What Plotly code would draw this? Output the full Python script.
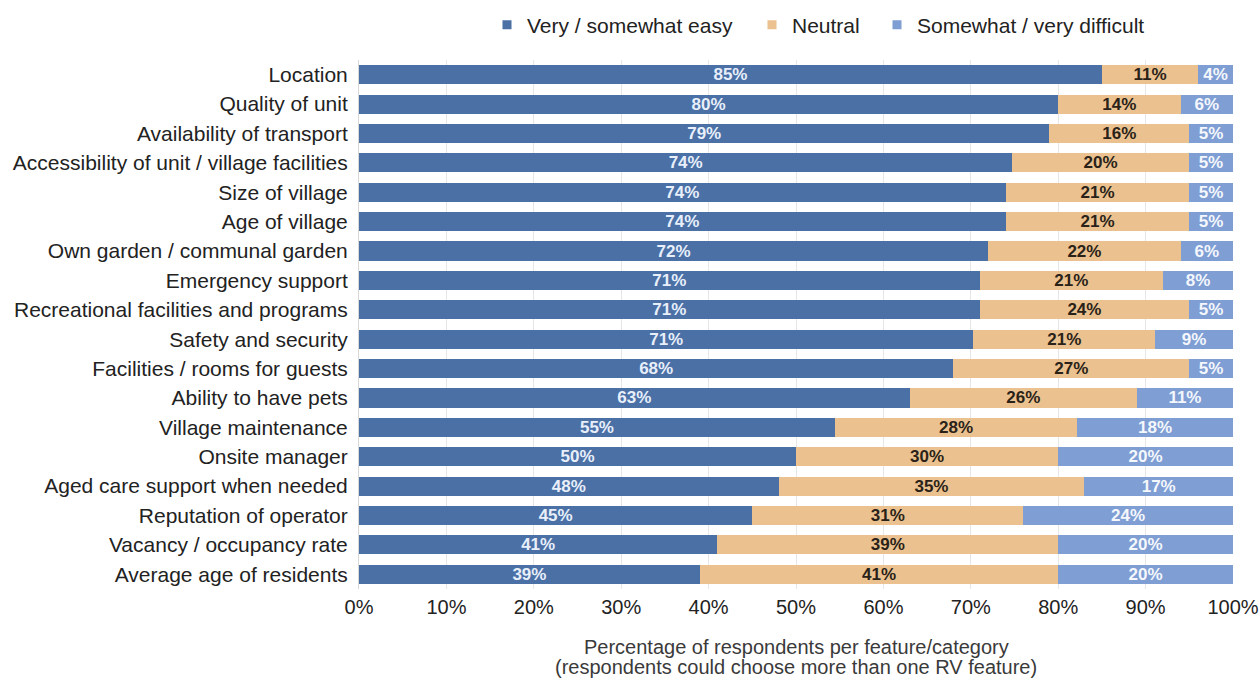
import plotly.graph_objects as go

# Survey features (top to bottom as displayed)
features = [
    "Location",
    "Quality of unit",
    "Availability of transport",
    "Accessibility of unit / village facilities",
    "Size of village",
    "Age of village",
    "Own garden / communal garden",
    "Emergency support",
    "Recreational facilities and programs",
    "Safety and security",
    "Facilities / rooms for guests",
    "Ability to have pets",
    "Village maintenance",
    "Onsite manager",
    "Aged care support when needed",
    "Reputation of operator",
    "Vacancy / occupancy rate",
    "Average age of residents",
]

easy = [85, 80, 79, 74, 74, 74, 72, 71, 71, 71, 68, 63, 55, 50, 48, 45, 41, 39]
neutral = [11, 14, 16, 20, 21, 21, 22, 21, 24, 21, 27, 26, 28, 30, 35, 31, 39, 41]
difficult = [4, 6, 5, 5, 5, 5, 6, 8, 5, 9, 5, 11, 18, 20, 17, 24, 20, 20]

series_names = ["Very / somewhat easy", "Neutral", "Somewhat / very difficult"]
x_ticks = [0, 10, 20, 30, 40, 50, 60, 70, 80, 90, 100]

colors = ["#4A70A6", "#EBC28F", "#7F9ED4"]
text_colors = ["#E8EFFA", "#2A2218", "#F4F7FC"]

FONT = "Liberation Sans, Arial, sans-serif"

fig = go.Figure()

for name, vals, col, tcol in zip(series_names, [easy, neutral, difficult], colors, text_colors):
    fig.add_trace(go.Bar(
        y=features,
        x=vals,
        orientation="h",
        name=name,
        marker=dict(color=col, line=dict(width=0)),
        text=[f"{v}%" for v in vals],
        textposition="inside",
        insidetextanchor="middle",
        textangle=0,
        constraintext="none",
        textfont=dict(family=FONT, size=17, color=tcol, weight="bold"),
        showlegend=False,
        hoverinfo="skip",
    ))

# one small legend per series, each placed on its own
legend_ids = ["legend", "legend2", "legend3"]
legend_left_px = [487, 752, 877]
for name, col, lid in zip(series_names, colors, legend_ids):
    fig.add_trace(go.Scatter(
        x=[None], y=[None], mode="markers", name=name,
        marker=dict(symbol="square", size=9, color=col),
        showlegend=True,
        legend=lid,
    ))

plot_left, plot_right = 359, 1233
plot_w = plot_right - plot_left


def legend_box(px):
    return dict(
        x=(px - plot_left) / plot_w, xanchor="left",
        y=1 - 25 / 681, yref="container", yanchor="middle",
        orientation="h",
        font=dict(size=21, color="#222222"),
        itemwidth=30,
        bgcolor="rgba(0,0,0,0)",
        borderwidth=0,
    )


fig.update_layout(
    barmode="stack",
    barnorm="percent",
    bargap=0.35,
    width=1260,
    height=681,
    margin=dict(l=plot_left, r=1260 - plot_right, t=60, b=92, autoexpand=False),
    paper_bgcolor="white",
    plot_bgcolor="white",
    font=dict(family=FONT, color="#222222"),
    legend=legend_box(legend_left_px[0]),
    legend2=legend_box(legend_left_px[1]),
    legend3=legend_box(legend_left_px[2]),
    xaxis=dict(
        range=[0, 100],
        tickvals=x_ticks,
        ticktext=[f"{t}%" for t in x_ticks],
        tickfont=dict(size=20, color="#222222"),
        showgrid=True,
        gridcolor="#E6E6E6",
        gridwidth=1,
        zeroline=False,
        showline=False,
        ticks="",
        ticklabelstandoff=4,
        automargin=False,
        fixedrange=True,
    ),
    yaxis=dict(
        categoryorder="array",
        categoryarray=features[::-1],
        tickfont=dict(size=21, color="#222222"),
        showgrid=False,
        zeroline=False,
        showline=True,
        linecolor="#D8D8D8",
        linewidth=1,
        ticks="",
        ticklabelstandoff=6,
        automargin=False,
        fixedrange=True,
    ),
    annotations=[
        dict(
            text="Percentage of respondents per feature/category",
            x=0.5, xref="paper",
            y=(589 - 647) / 529, yref="paper",
            xanchor="center", yanchor="middle",
            showarrow=False,
            font=dict(size=20, color="#3A3A3A"),
        ),
        dict(
            text="(respondents could choose more than one RV feature)",
            x=0.5, xref="paper",
            y=(589 - 667) / 529, yref="paper",
            xanchor="center", yanchor="middle",
            showarrow=False,
            font=dict(size=20, color="#3A3A3A"),
        ),
    ],
)

fig.write_html("out.html")
